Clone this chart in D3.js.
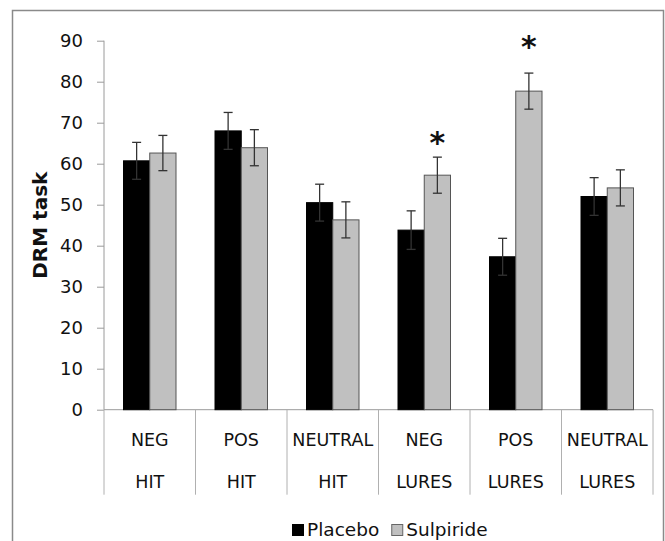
<!DOCTYPE html>
<html>
<head>
<meta charset="utf-8">
<script src="https://cdn.jsdelivr.net/npm/d3@7"></script>
<style>
  body { margin: 0; background: #fff; }
  text { font-family: "DejaVu Sans", Verdana, sans-serif; fill: #111; }
</style>
</head>
<body>
<div id="chart"></div>
<script>
// Data
const emotions = ["NEG", "POS", "NEUTRAL", "NEG", "POS", "NEUTRAL"];
const kinds = ["HIT", "HIT", "HIT", "LURES", "LURES", "LURES"];
const series = ["Placebo", "Sulpiride"];
const placebo = [60.7, 68.0, 50.5, 43.8, 37.3, 52.0];
const placeboErr = [4.5, 4.5, 4.5, 4.7, 4.5, 4.6];
const sulpiride = [62.6, 63.9, 46.3, 57.2, 77.7, 54.1];
const sulpirideErr = [4.3, 4.4, 4.4, 4.4, 4.4, 4.4];
// significance markers (category index, height of the star)
const stars = [{ i: 3, v: 66.3 }, { i: 4, v: 89.7 }];
const yTicks = [0, 10, 20, 30, 40, 50, 60, 70, 80, 90];

const width = 665, height = 541;
const margin = { left: 104, right: 12, top: 40.7, bottom: 131.3 };
const plotH = height - margin.top - margin.bottom;

const svg = d3.select("#chart").append("svg")
  .attr("width", width)
  .attr("height", height);

// outer frame
svg.append("rect")
  .attr("x", 12.5).attr("y", 10.5)
  .attr("width", 651).attr("height", 560)
  .attr("fill", "none")
  .attr("stroke", "#8a8a8a")
  .attr("stroke-width", 1.5);

const g = svg.append("g").attr("transform", `translate(${margin.left},${margin.top})`);

const idx = d3.range(emotions.length);
const x = d3.scaleBand().domain(idx).range([0, 549]).paddingInner(0).paddingOuter(0);
const xInner = d3.scaleBand().domain(series).range([19.5, x.bandwidth() - 19.5]);
const y = d3.scaleLinear().domain([0, 90]).range([plotH, 0]);

const colors = { Placebo: "#000000", Sulpiride: "#c0c0c0" };
const strokes = { Placebo: "#000000", Sulpiride: "#555555" };

// y axis
const yAxis = g.append("g").call(d3.axisLeft(y).tickValues(yTicks).tickSize(7).tickPadding(14));
yAxis.select(".domain").attr("stroke", "#9a9a9a").attr("d", `M0,${plotH}V0`);
yAxis.selectAll(".tick line").attr("stroke", "#9a9a9a");
yAxis.selectAll(".tick text")
  .style("font-family", "'DejaVu Sans', Verdana, sans-serif")
  .style("font-size", "18px").attr("fill", "#111");

// x axis baseline + category dividers
g.append("line")
  .attr("x1", 0).attr("x2", 549)
  .attr("y1", plotH).attr("y2", plotH)
  .attr("stroke", "#9a9a9a");
g.selectAll(".divider")
  .data(d3.range(emotions.length + 1))
  .join("line")
  .attr("class", "divider")
  .attr("x1", d => d * x.bandwidth()).attr("x2", d => d * x.bandwidth())
  .attr("y1", plotH).attr("y2", plotH + 85)
  .attr("stroke", "#b0b0b0");

// category labels (two rows)
const cat = g.selectAll(".cat").data(idx).join("g")
  .attr("class", "cat")
  .attr("transform", d => `translate(${x(d) + x.bandwidth() / 2},${plotH})`);
cat.append("text")
  .attr("y", 36).attr("text-anchor", "middle")
  .style("font-size", "17.5px")
  .text(d => emotions[d]);
cat.append("text")
  .attr("y", 78).attr("text-anchor", "middle")
  .style("font-size", "17.5px")
  .text(d => kinds[d]);

// bars
const rows = idx.flatMap(i => [
  { i, s: "Placebo", v: placebo[i], e: placeboErr[i] },
  { i, s: "Sulpiride", v: sulpiride[i], e: sulpirideErr[i] }
]);

g.selectAll(".bar").data(rows).join("rect")
  .attr("class", "bar")
  .attr("x", d => x(d.i) + xInner(d.s))
  .attr("y", d => y(d.v))
  .attr("width", xInner.bandwidth())
  .attr("height", d => plotH - y(d.v))
  .attr("fill", d => colors[d.s])
  .attr("stroke", d => strokes[d.s])
  .attr("stroke-width", 1);

// error bars
const err = g.selectAll(".err").data(rows).join("g")
  .attr("class", "err")
  .attr("stroke", "#333")
  .attr("stroke-width", 1.3);
const cx = d => x(d.i) + xInner(d.s) + xInner.bandwidth() / 2;
err.append("line")
  .attr("x1", cx).attr("x2", cx)
  .attr("y1", d => y(d.v - d.e)).attr("y2", d => y(d.v + d.e));
err.append("line")
  .attr("x1", d => cx(d) - 4.5).attr("x2", d => cx(d) + 4.5)
  .attr("y1", d => y(d.v + d.e)).attr("y2", d => y(d.v + d.e));
err.append("line")
  .attr("x1", d => cx(d) - 4.5).attr("x2", d => cx(d) + 4.5)
  .attr("y1", d => y(d.v - d.e)).attr("y2", d => y(d.v - d.e));

// significance stars over the sulpiride bars
g.selectAll(".star").data(stars).join("text")
  .attr("class", "star")
  .attr("x", d => x(d.i) + xInner("Sulpiride") + xInner.bandwidth() / 2)
  .attr("y", d => y(d.v) + 15)
  .attr("text-anchor", "middle")
  .style("font-size", "30px")
  .style("font-weight", "bold")
  .text("*");

// y axis title
svg.append("text")
  .attr("transform", `translate(47,${margin.top + plotH / 2}) rotate(-90)`)
  .attr("text-anchor", "middle")
  .style("font-size", "20px")
  .style("font-weight", "bold")
  .text("DRM task");

// legend
const legend = svg.append("g").attr("transform", "translate(292,522)");
let lx = 0;
series.forEach(s => {
  const item = legend.append("g").attr("transform", `translate(${lx},0)`);
  item.append("rect")
    .attr("x", 0.5).attr("y", 2.5)
    .attr("width", 11).attr("height", 11)
    .attr("fill", colors[s])
    .attr("stroke", s === "Sulpiride" ? "#666" : "#000");
  const t = item.append("text")
    .attr("x", 15).attr("y", 14)
    .style("font-size", "18.5px")
    .text(s);
  lx += 15 + t.node().getComputedTextLength() + 12;
});
</script>
</body>
</html>
